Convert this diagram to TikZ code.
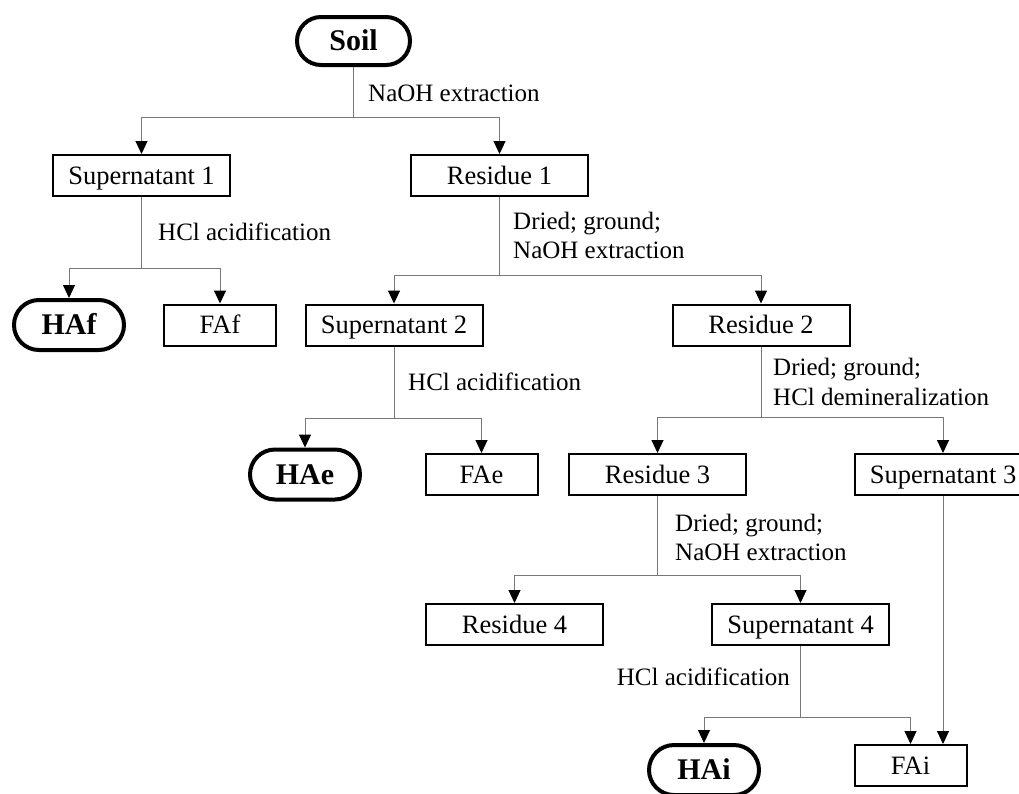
\documentclass[tikz,border=0pt]{standalone}
\usepackage{fontspec}
\setmainfont{Liberation Serif}
\usetikzlibrary{arrows.meta}
\definecolor{linegray}{RGB}{120,120,120}
\begin{document}
\begin{tikzpicture}[x=1pt,y=-1pt,
  box/.style={draw=black, line width=2pt, inner sep=0pt, minimum height=41pt, text height=17.5pt, text depth=0pt, font=\fontsize{26.5}{30}\selectfont},
  widebox/.style={box, minimum width=177pt},
  smallbox/.style={box, minimum width=112pt},
  term/.style={draw=black, line width=4pt, inner sep=0pt, minimum width=110pt, minimum height=50pt, rounded corners=25pt, text height=19.9pt, text depth=0pt, font=\fontsize{30}{34}\selectfont\bfseries},
  link/.style={draw=linegray, line width=1pt},
  arr/.style={link, -{Triangle[length=13pt,width=12pt,color=black]}},
  lbl/.style={inner sep=0pt, font=\fontsize{25}{29}\selectfont, anchor=base west}
]
\useasboundingbox (0,0) rectangle (1019,793);

% nodes
\node[term, minimum width=113pt, minimum height=48pt, rounded corners=24pt] (soil) at (353.5,41) {Soil};
\node[widebox] (sup1) at (141.5,175.5) {Supernatant 1};
\node[widebox] (res1) at (499.5,175.5) {Residue 1};
\node[term] (haf) at (69,325) {HAf};
\node[smallbox] (faf) at (220,325) {FAf};
\node[widebox] (sup2) at (394,325) {Supernatant 2};
\node[widebox] (res2) at (761,325) {Residue 2};
\node[term] (hae) at (305,474.5) {HAe};
\node[smallbox] (fae) at (481.5,474.5) {FAe};
\node[widebox] (res3) at (657.5,474.5) {Residue 3};
\node[widebox] (sup3) at (943,474.5) {Supernatant 3};
\node[widebox] (res4) at (514.5,624.5) {Residue 4};
\node[widebox] (sup4) at (800.5,624.5) {Supernatant 4};
\node[term] (hai) at (704,770) {HAi};
\node[smallbox] (fai) at (910.5,765.5) {FAi};

% junctions
\coordinate (j0) at (353.5,117);
\coordinate (j1) at (141.5,268);
\coordinate (j2) at (499.5,275);
\coordinate (j3) at (394,418);
\coordinate (j4) at (761,417);
\coordinate (j5) at (657.5,575);
\coordinate (j6) at (800.5,717);

% connectors
\draw[link] (soil) -- (j0);
\draw[arr] (j0) -| (sup1);
\draw[arr] (j0) -| (res1);

\draw[link] (sup1) -- (j1);
\draw[arr] (j1) -| (haf);
\draw[arr] (j1) -| (faf);

\draw[link] (res1) -- (j2);
\draw[arr] (j2) -| (sup2);
\draw[arr] (j2) -| (res2);

\draw[link] (sup2) -- (j3);
\draw[arr] (j3) -| (hae);
\draw[arr] (j3) -| (fae);

\draw[link] (res2) -- (j4);
\draw[arr] (j4) -| (res3);
\draw[arr] (j4) -| (sup3);

\draw[link] (res3) -- (j5);
\draw[arr] (j5) -| (res4);
\draw[arr] (j5) -| (sup4);

\draw[link] (sup4) -- (j6);
\draw[arr] (j6) -| (hai);
\draw[arr] (j6) -| (fai);

\draw[arr] (sup3.south) -- (sup3.south |- fai.north);

% labels
\node[lbl] (l0) at (368,101) {NaOH extraction};
\node[lbl] (l1) at (158,240) {HCl acidification};
\node[lbl] (l2) at (513,229) {\begin{tabular}[t]{@{}l@{}}Dried; ground;\\NaOH extraction\end{tabular}};
\node[lbl] (l3) at (408,390) {HCl acidification};
\node[lbl, font=\fontsize{25}{30}\selectfont] (l4) at (773,375) {\begin{tabular}[t]{@{}l@{}}Dried; ground;\\HCl demineralization\end{tabular}};
\node[lbl] (l5) at (675,531) {\begin{tabular}[t]{@{}l@{}}Dried; ground;\\NaOH extraction\end{tabular}};
\node[lbl, anchor=base east] (l6) at (790,685) {HCl acidification};
\end{tikzpicture}
\end{document}
